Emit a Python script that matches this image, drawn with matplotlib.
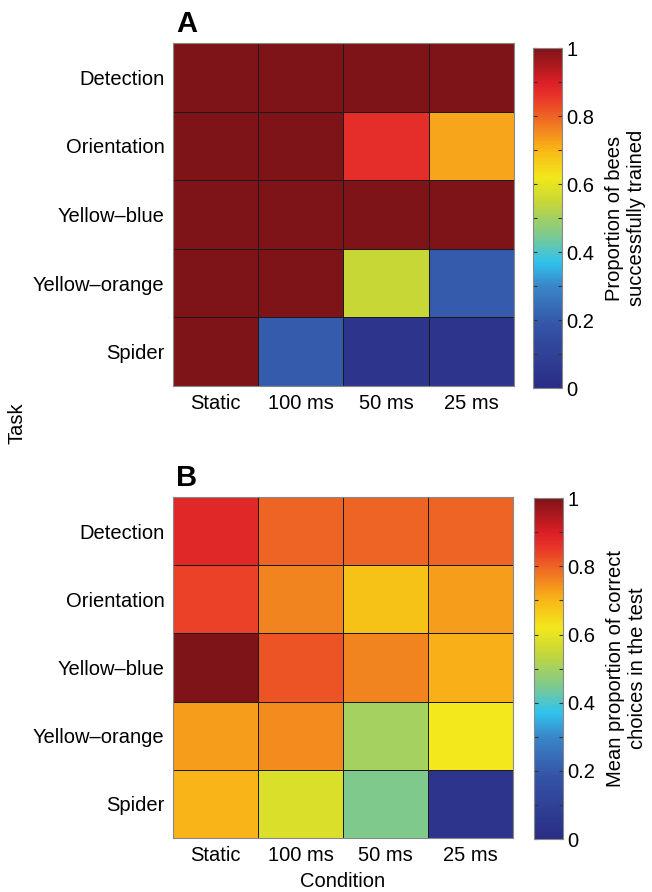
import matplotlib
matplotlib.use("Agg")
import matplotlib.pyplot as plt
from matplotlib.colors import LinearSegmentedColormap
from matplotlib.ticker import MultipleLocator
import numpy as np

plt.rcParams["font.family"] = ["Liberation Sans", "DejaVu Sans"]

TASKS = ["Detection", "Orientation", "Yellow\u2013blue", "Yellow\u2013orange", "Spider"]
CONDITIONS = ["Static", "100 ms", "50 ms", "25 ms"]

# proportion of bees successfully trained (panel A)
TRAINED = [
    [1.00, 1.00, 1.00, 1.00],
    [1.00, 1.00, 0.87, 0.72],
    [1.00, 1.00, 1.00, 1.00],
    [1.00, 1.00, 0.55, 0.20],
    [1.00, 0.20, 0.04, 0.04],
]
# mean proportion of correct choices in the test (panel B)
CORRECT = [
    [0.88, 0.80, 0.80, 0.80],
    [0.84, 0.76, 0.68, 0.73],
    [1.00, 0.82, 0.76, 0.71],
    [0.73, 0.75, 0.50, 0.62],
    [0.70, 0.58, 0.45, 0.04],
]

# jet-like map as printed in the paper
CMAP = LinearSegmentedColormap.from_list("paperjet", [
    (0.00, "#2a2d84"), (0.18, "#3453a6"), (0.30, "#3a86c8"), (0.37, "#2fc3ee"),
    (0.45, "#7fc98e"), (0.55, "#c8d835"), (0.62, "#f2e81c"), (0.70, "#f9b717"),
    (0.78, "#f07422"), (0.86, "#e8332a"), (0.90, "#dc1f26"), (1.00, "#7f1418"),
])

FS = 14.5


def heat(fig, rect, crect, data, clabel, letter, bottom_label=False):
    ax = fig.add_axes(rect)
    arr = np.array(data)
    mesh = ax.pcolormesh(arr, cmap=CMAP, vmin=0, vmax=1, edgecolors="#1a1a1a", linewidth=0.6)
    ax.set_xlim(0, 4); ax.set_ylim(5, 0)
    ax.set_xticks(np.arange(4) + 0.5)
    ax.set_xticklabels(CONDITIONS, fontsize=FS)
    ax.set_yticks(np.arange(5) + 0.5)
    ax.set_yticklabels(TASKS, fontsize=FS)
    ax.tick_params(length=0, pad=6)
    for sp in ax.spines.values():
        sp.set_color("#888888"); sp.set_linewidth(0.8)
    ax.text(0.01, 1.015, letter, transform=ax.transAxes, fontsize=21,
            fontweight="bold", ha="left", va="bottom")
    if bottom_label:
        ax.set_xlabel("Condition", fontsize=FS, labelpad=5)

    cax = fig.add_axes(crect)
    cb = fig.colorbar(mesh, cax=cax)
    cb.set_ticks([0, 0.2, 0.4, 0.6, 0.8, 1])
    cb.set_ticklabels(["0", "0.2", "0.4", "0.6", "0.8", "1"])
    cax.yaxis.set_minor_locator(MultipleLocator(0.1))
    cax.tick_params(which="both", direction="in", left=True, right=True,
                    length=3, width=0.8, color="#333333", labelsize=FS, pad=3)
    cb.outline.set_edgecolor("#888888"); cb.outline.set_linewidth(0.8)
    cb.set_label(clabel, fontsize=FS, labelpad=8)
    return ax


fig = plt.figure(figsize=(6.52, 8.92), dpi=100)
heat(fig, [0.2653, 0.5673, 0.523, 0.3845], [0.8175, 0.565, 0.0445, 0.381],
     TRAINED, "Proportion of bees\nsuccessfully trained", "A")
heat(fig, [0.2653, 0.0605, 0.5215, 0.3823], [0.8190, 0.0594, 0.0445, 0.382],
     CORRECT, "Mean proportion of correct\nchoices in the test", "B", bottom_label=True)

fig.text(0.026, 0.526, "Task", rotation=90, fontsize=FS, ha="center", va="center")

fig.savefig("out.png", dpi=100, facecolor="white")
